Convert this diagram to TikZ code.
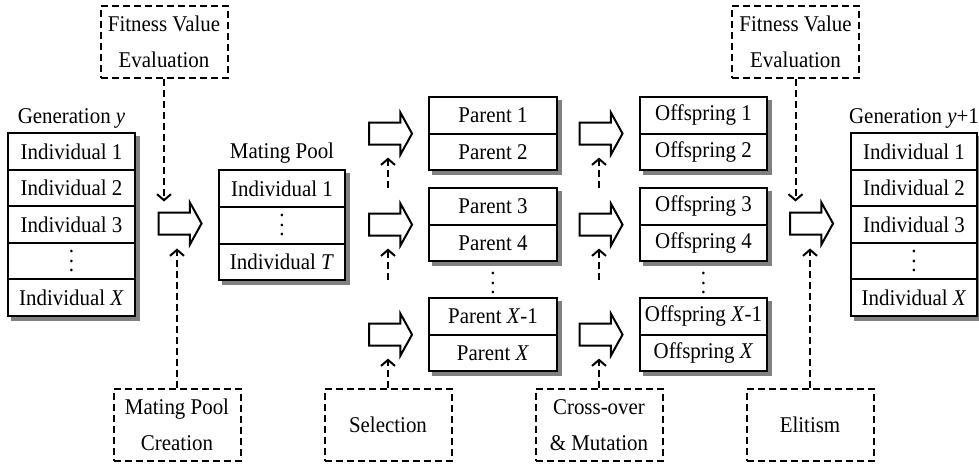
\documentclass[tikz,border=0pt]{standalone}
\usepackage{fontspec}
\setmainfont{Liberation Serif}[FakeStretch=0.93]
\usetikzlibrary{arrows.meta,shapes.arrows,calc,backgrounds}
\newcommand{\myvdots}{\vbox{\baselineskip9.5pt\lineskiplimit0pt\hbox{.}\hbox{.}\hbox{.}}}
\begin{document}
\begin{tikzpicture}[x=1pt,y=-1pt, font=\fontsize{22.5}{36}\selectfont,
 cell/.style={draw, fill=white, line width=2pt, minimum height=36.6pt, inner sep=0pt, anchor=center},
 dbox/.style={draw, dash pattern=on 7pt off 4pt, line width=2pt, minimum width=127pt, minimum height=72pt, align=center, inner sep=0pt},
 barrow/.style={single arrow, draw, fill=white, line width=2pt, minimum height=43pt, inner sep=10pt, single arrow head extend=10pt, single arrow tip angle=122},
 darr/.style={dash pattern=on 7pt off 4pt, line width=2pt, -{Straight Barb[length=6pt,width=14pt]}},
 shadowfill/.style={fill=black!50}]
\useasboundingbox (0,0) rectangle (979,467);
% Generation y
\node (gl) at (71.5,118) {Generation \textit{y}};
\begin{scope}[cell/.append style={minimum width=127pt}]
\node[cell] (g1) at (71.5,151.3) {Individual 1};
\node[cell] (g2) at (71.5,187.9) {Individual 2};
\node[cell] (g3) at (71.5,224.5) {Individual 3};
\node[cell] (g4) at (71.5,261.1) {\myvdots};
\node[cell] (g5) at (71.5,297.7) {Individual \textit{X}};
\end{scope}
% Mating pool
\node (ml) at (282,153) {Mating Pool};
\begin{scope}[cell/.append style={minimum width=126pt}]
\node[cell] (m1) at (282,188.7) {Individual 1};
\node[cell] (m2) at (282,225.3) {\myvdots};
\node[cell] (m3) at (282,261.9) {Individual \textit{T}};
\end{scope}
% Parents
\begin{scope}[cell/.append style={minimum width=128pt}]
\node[cell] (p1) at (493,115.3) {Parent 1};
\node[cell] (p2) at (493,151.9) {Parent 2};
\node[cell] (p3) at (493,206.3) {Parent 3};
\node[cell] (p4) at (493,242.9) {Parent 4};
\node[cell] (p5) at (493,316.3) {Parent \textit{X}-1};
\node[cell] (p6) at (493,352.9) {Parent \textit{X}};
\end{scope}
\node (pd) at (493,283) {\myvdots};
% Offspring
\begin{scope}[cell/.append style={minimum width=127pt}]
\node[cell] (o1) at (703.5,115.3) {Offspring 1};
\node[cell] (o2) at (703.5,151.9) {Offspring 2};
\node[cell] (o3) at (703.5,206.3) {Offspring 3};
\node[cell] (o4) at (703.5,242.9) {Offspring 4};
\node[cell] (o5) at (703.5,316.3) {Offspring \textit{X}-1};
\node[cell] (o6) at (703.5,352.9) {Offspring \textit{X}};
\end{scope}
\node (od) at (703.5,283) {\myvdots};
% Generation y+1
\node (hl) at (914,118) {Generation \textit{y}+1};
\begin{scope}[cell/.append style={minimum width=126pt}]
\node[cell] (h1) at (914,151.3) {Individual 1};
\node[cell] (h2) at (914,187.9) {Individual 2};
\node[cell] (h3) at (914,224.5) {Individual 3};
\node[cell] (h4) at (914,261.1) {\myvdots};
\node[cell] (h5) at (914,297.7) {Individual \textit{X}};
\end{scope}
% shadows
\begin{scope}[on background layer]
\fill[shadowfill] ($(g1.north west)+(4,4)$) rectangle ($(g5.south east)+(4,4)$);
\fill[shadowfill] ($(m1.north west)+(4,4)$) rectangle ($(m3.south east)+(4,4)$);
\fill[shadowfill] ($(p1.north west)+(4,4)$) rectangle ($(p2.south east)+(4,4)$);
\fill[shadowfill] ($(p3.north west)+(4,4)$) rectangle ($(p4.south east)+(4,4)$);
\fill[shadowfill] ($(p5.north west)+(4,4)$) rectangle ($(p6.south east)+(4,4)$);
\fill[shadowfill] ($(o1.north west)+(4,4)$) rectangle ($(o2.south east)+(4,4)$);
\fill[shadowfill] ($(o3.north west)+(4,4)$) rectangle ($(o4.south east)+(4,4)$);
\fill[shadowfill] ($(o5.north west)+(4,4)$) rectangle ($(o6.south east)+(4,4)$);
\fill[shadowfill] ($(h1.north west)+(4,4)$) rectangle ($(h5.south east)+(4,4)$);
\end{scope}
% block arrows
\node[barrow] (a0) at (177,223.5) {};
\node[barrow] (s1) at (387.5,133.6) {};
\node[barrow] (s2) at (387.5,224.6) {};
\node[barrow] (s3) at (387.5,334.6) {};
\node[barrow] (c1) at (598,133.6) {};
\node[barrow] (c2) at (598,224.6) {};
\node[barrow] (c3) at (598,334.6) {};
\node[barrow] (a4) at (808.5,223.5) {};
% dashed boxes
\node[dbox] (fve1) at (164,42) {Fitness Value\\Evaluation};
\node[dbox] (fve2) at (795.5,42) {Fitness Value\\Evaluation};
\node[dbox] (mpc) at (177,425) {Mating Pool\\Creation};
\node[dbox] (sel) at (388,425) {Selection};
\node[dbox] (cm) at (599,425) {Cross-over\\\& Mutation};
\node[dbox] (eli) at (810,425) {Elitism};
% dashed connectors
\draw[darr] (fve1.south) -- ($(fve1.south |- a0.center)+(0,-22)$);
\draw[darr] (mpc.north) -- ($(mpc.north |- a0.center)+(0,25)$);
\draw[darr] (fve2.south) -- ($(fve2.south |- a4.center)+(0,-22)$);
\draw[darr] (eli.north) -- ($(eli.north |- a4.center)+(0,25)$);
\draw[darr] (sel.north) -- ($(sel.north |- s3.center)+(0,24)$);
\coordinate (sf2) at (388,280);
\coordinate (sf1) at (388,188);
\draw[darr] (sf2) -- ($(sf2 |- s2.center)+(0,24)$);
\draw[darr] (sf1) -- ($(sf1 |- s1.center)+(0,24)$);
\draw[darr] (cm.north) -- ($(cm.north |- c3.center)+(0,24)$);
\coordinate (cf2) at (599,280);
\coordinate (cf1) at (599,188);
\draw[darr] (cf2) -- ($(cf2 |- c2.center)+(0,24)$);
\draw[darr] (cf1) -- ($(cf1 |- c1.center)+(0,24)$);
\end{tikzpicture}
\end{document}
